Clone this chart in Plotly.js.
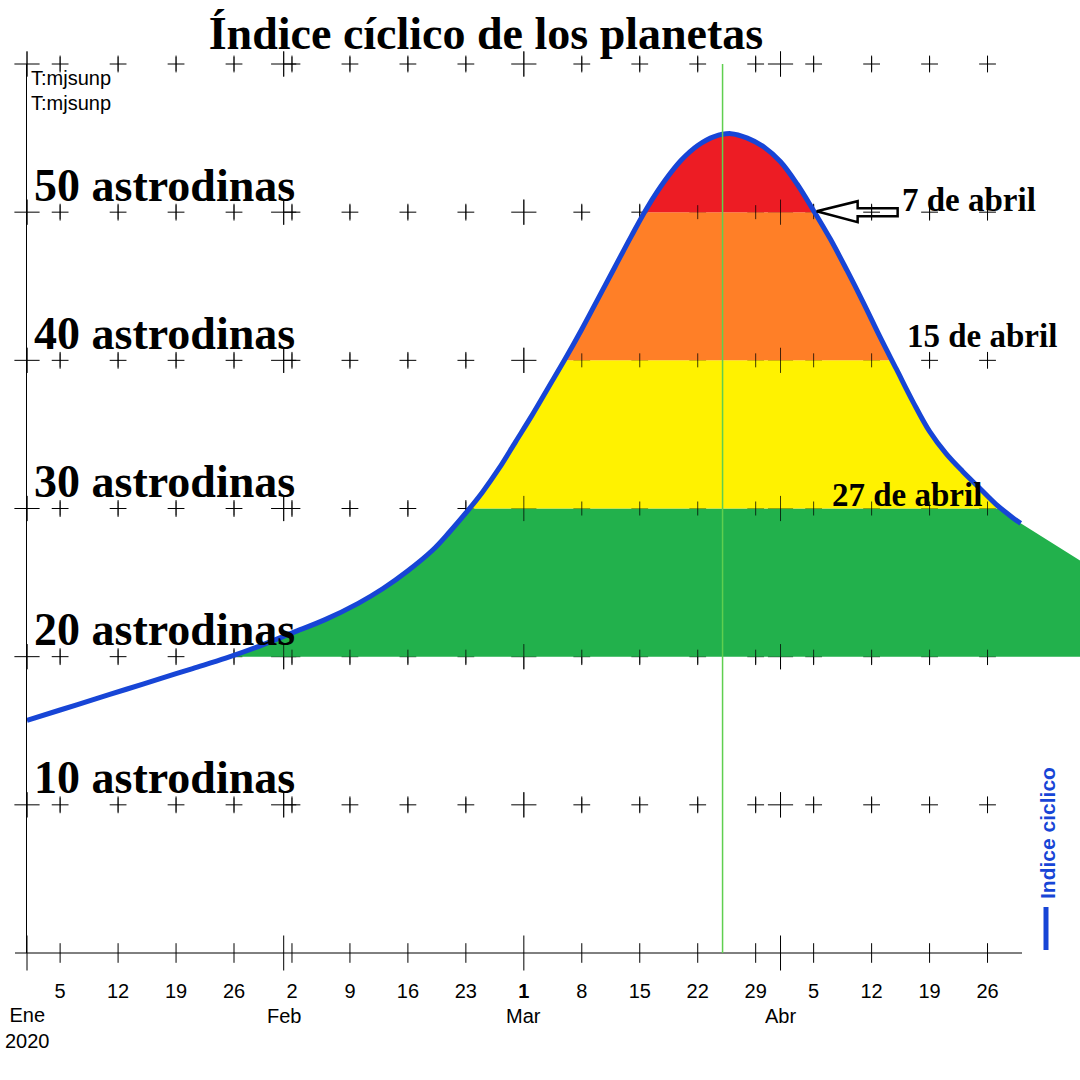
<!DOCTYPE html>
<html>
<head>
<meta charset="utf-8">
<script src="https://cdn.plot.ly/plotly-3.0.1.min.js"></script>
<style>
  html, body { margin: 0; padding: 0; background: #fff; }
  #grafico { width: 1080px; height: 1080px; }
</style>
</head>
<body>
<div id="grafico"></div>
<script>
// Índice cíclico de los planetas, 2020 (en astrodinas)
const fechas = [
  '2020-01-01', '2020-01-05', '2020-01-09', '2020-01-13', '2020-01-17', '2020-01-21',
  '2020-01-25', '2020-01-29', '2020-02-02', '2020-02-06', '2020-02-10', '2020-02-13',
  '2020-02-16', '2020-02-19', '2020-02-21', '2020-02-23', '2020-02-25', '2020-02-27',
  '2020-02-29', '2020-03-02', '2020-03-04', '2020-03-06', '2020-03-08', '2020-03-10',
  '2020-03-12', '2020-03-14', '2020-03-16', '2020-03-18', '2020-03-20', '2020-03-22',
  '2020-03-24', '2020-03-26', '2020-03-28', '2020-03-30', '2020-04-01', '2020-04-03',
  '2020-04-05', '2020-04-07', '2020-04-09', '2020-04-11', '2020-04-13', '2020-04-15',
  '2020-04-17', '2020-04-19', '2020-04-21', '2020-04-23', '2020-04-25', '2020-04-27',
  '2020-04-29', '2020-04-30'
];
const indice = [
  15.7, 16.4, 17.1, 17.8, 18.5, 19.2,
  19.9, 20.7, 21.6, 22.5, 23.6, 24.6,
  25.8, 27.2, 28.4, 29.7, 31.1, 32.7,
  34.5, 36.3, 38.2, 40.1, 42.1, 44.2,
  46.3, 48.4, 50.4, 52.1, 53.5, 54.5,
  55.1, 55.3, 55.0, 54.4, 53.4, 51.9,
  50.1, 48.2, 46.1, 43.9, 41.6, 39.4,
  37.2, 35.2, 33.7, 32.5, 31.4, 30.3,
  29.4, 29.0
];

// la zona verde sigue más allá del final de la curva
const fechasExtra = ['2020-05-08'];
const indiceExtra = [26.2];

// bandas de color (astrodinas)
const limites = [20, 30, 40, 50, 60];
const niveles = [10, 20, 30, 40, 50];
const filasCruces = [0, 10, 20, 30, 40, 50, 60];

const domingos = [
  '2020-01-05', '2020-01-12', '2020-01-19', '2020-01-26', '2020-02-02', '2020-02-09',
  '2020-02-16', '2020-02-23', '2020-03-01', '2020-03-08', '2020-03-15', '2020-03-22',
  '2020-03-29', '2020-04-05', '2020-04-12', '2020-04-19', '2020-04-26'
];
const diasDomingo = ['5', '12', '19', '26', '2', '9', '16', '23', '1', '8', '15', '22', '29', '5', '12', '19', '26'];
const iniciosMes = ['2020-01-01', '2020-02-01', '2020-03-01', '2020-04-01'];
const nombresMes = ['Ene<br>2020', 'Feb', 'Mar', 'Abr'];

const hoy = '2020-03-25';
const notas = ['7 de abril', '15 de abril', '27 de abril'];

const colores = ['#22b14c', '#fff200', '#ff7f27', '#ed1c24'];
const azul = '#1745d6';
const serif = 'Liberation Serif, Times New Roman, serif';
const sans = 'Liberation Sans, Arial, sans-serif';

// pixel -> paper (zona de trazado 27..1080 x 64..953)
const px = x => (x - 27) / 1053;
const py = y => (953 - y) / 889;

function cruces(cols, filas) {
  const x = [], y = [];
  filas.forEach(f => cols.forEach(c => { x.push(c); y.push(f); }));
  return { x: x, y: y };
}

function marcas(p, simbolo, tam, color) {
  return {
    x: p.x, y: p.y, type: 'scatter', mode: 'markers',
    cliponaxis: false, hoverinfo: 'skip', showlegend: false,
    marker: { symbol: simbolo, size: tam, color: color, line: { color: color, width: 1 } }
  };
}

const semanas = domingos.filter(d => !iniciosMes.includes(d));
const filas = filasCruces.filter(f => f > 0);
const cMen = cruces(semanas, filas);
const cMay = cruces(iniciosMes, filas);
const cMen0 = cruces(semanas, [0]);
const cMay0 = cruces(iniciosMes, [0]);

let data = [
  marcas(cMen, 'cross-thin', 12, '#000'),
  marcas(cMay, 'cross-thin', 18, '#000'),
  marcas(cMen0, 'line-ns', 14, '#000'),
  marcas(cMay0, 'line-ns', 25, '#000')
];

// rellenos por bandas: la curva recortada entre dos niveles,
// con los puntos de corte añadidos para que el borde coincida
const tx = fechas.concat(fechasExtra).map(d => Date.parse(d));
const fy = indice.concat(indiceExtra);
function recorte(lo, hi) {
  const x = [], y = [];
  const c = v => Math.min(Math.max(v, lo), hi);
  for (let i = 0; i < tx.length; i++) {
    x.push(tx[i]); y.push(c(fy[i]));
    if (i + 1 < tx.length) {
      const a = fy[i], b = fy[i + 1];
      [lo, hi].filter(l => (a - l) * (b - l) < 0)
        .map(l => ({ t: tx[i] + (l - a) / (b - a) * (tx[i + 1] - tx[i]), v: l }))
        .sort((p, q) => p.t - q.t)
        .forEach(k => { x.push(k.t); y.push(k.v); });
    }
  }
  return { x: x, y: y };
}

for (let i = 0; i < colores.length; i++) {
  const lo = limites[i], hi = limites[i + 1];
  const r = recorte(lo, hi);
  data.push({
    x: r.x, y: r.x.map(() => lo), type: 'scatter', mode: 'lines',
    line: { width: 0 }, hoverinfo: 'skip', showlegend: false
  });
  data.push({
    x: r.x, y: r.y, type: 'scatter', mode: 'lines',
    line: { width: 0 }, fill: 'tonexty', fillcolor: colores[i],
    hoverinfo: 'skip', showlegend: false
  });
}

// marcas verticales visibles sobre el relleno
data.push(marcas(cMen, 'line-ns', 10, 'rgba(0,0,0,0.75)'));
data.push(marcas(cMay, 'line-ns', 18, 'rgba(0,0,0,0.75)'));

// la curva
data.push({
  x: fechas, y: indice, type: 'scatter', mode: 'lines', name: 'Indice ciclico',
  line: { color: azul, width: 5, shape: 'spline', smoothing: 1 }, showlegend: false
});

let annotations = [];
niveles.forEach(n => {
  annotations.push({
    text: '<b>' + n + ' astrodinas</b>', xref: 'paper', x: px(32), xanchor: 'left',
    yref: 'y', y: n, yshift: 27, yanchor: 'middle', showarrow: false,
    font: { family: serif, size: 46, color: '#000' }
  });
});
nombresMes.forEach((m, i) => {
  annotations.push({
    text: m, xref: 'x', x: iniciosMes[i], xanchor: 'center',
    yref: 'paper', y: 0, yanchor: 'middle', yshift: i === 0 ? -75 : -63,
    showarrow: false, font: { family: sans, size: 20, color: '#000' }
  });
});
// fechas señaladas
const notaX = [900, 905, 830];
const notaNivel = [50, 40, 30];
const notaShift = [12, 24, 14];
notas.forEach((t, i) => {
  annotations.push({
    text: '<b>' + t + '</b>', xref: 'paper', x: px(notaX[i]), xanchor: 'left',
    yref: 'y', y: notaNivel[i], yshift: notaShift[i], yanchor: 'middle', showarrow: false,
    font: { family: serif, size: 33, color: '#000' }
  });
});
annotations.push({
  text: 'T:mjsunp', xref: 'paper', x: px(29), xanchor: 'left', yref: 'paper', y: 1, yshift: -14,
  yanchor: 'middle', showarrow: false, font: { family: sans, size: 20, color: '#000' }
});
annotations.push({
  text: 'T:mjsunp', xref: 'paper', x: px(29), xanchor: 'left', yref: 'paper', y: 1, yshift: -39,
  yanchor: 'middle', showarrow: false, font: { family: sans, size: 20, color: '#000' }
});
annotations.push({
  text: '<b>Indice ciclico</b>', xref: 'paper', x: px(1047), xanchor: 'center',
  yref: 'paper', y: py(833), yanchor: 'middle', textangle: -90, showarrow: false,
  font: { family: sans, size: 21, color: azul }
});

const shapes = [
  // eje x
  { type: 'line', xref: 'paper', yref: 'paper', x0: px(15), x1: px(1022), y0: 0, y1: 0,
    line: { color: '#000', width: 1 } },
  // linea de hoy
  { type: 'line', xref: 'x', yref: 'y', x0: hoy, x1: hoy, y0: 0, y1: 60, layer: 'above',
    line: { color: '#5fcf4f', width: 1.5 } },
  // flecha hueca hacia el 7 de abril
  { type: 'path', xref: 'x', yref: 'y', xsizemode: 'pixel', ysizemode: 'pixel',
    xanchor: '2020-04-05', yanchor: 50, layer: 'above',
    path: 'M3,1 L44,11 L44,4 L84,4 L84,-4 L44,-4 L44,-10 Z',
    line: { color: '#000', width: 2.5 } },
  // muestra de la leyenda
  { type: 'line', xref: 'paper', yref: 'paper', x0: px(1046), x1: px(1046), y0: py(950), y1: py(907),
    line: { color: azul, width: 5 } }
];

const layout = {
  width: 1080, height: 1080,
  margin: { l: 27, r: 0, t: 64, b: 127 },
  paper_bgcolor: '#fff', plot_bgcolor: '#fff',
  showlegend: false,
  title: {
    text: '<b>Índice cíclico de los planetas</b>',
    font: { family: serif, size: 46, color: '#000' },
    x: 0.45, xanchor: 'center', xref: 'container',
    y: 1 - 33 / 1080, yanchor: 'middle', yref: 'container'
  },
  xaxis: {
    type: 'date', range: ['2020-01-01', '2020-05-07 04:00'],
    tickvals: domingos,
    ticktext: diasDomingo.map((d, i) => domingos[i] === '2020-03-01' ? '<b>' + d + '</b>' : d),
    ticks: 'outside', ticklen: 20, tickcolor: 'rgba(0,0,0,0)',
    tickfont: { family: sans, size: 20, color: '#000' },
    showgrid: false, zeroline: false, showline: false
  },
  yaxis: {
    range: [0, 60], showticklabels: false, ticks: '',
    showgrid: false, zeroline: false, showline: true, linecolor: '#000', linewidth: 1
  },
  shapes: shapes,
  annotations: annotations
};

Plotly.newPlot('grafico', data, layout, { displayModeBar: false, staticPlot: true });
</script>
</body>
</html>
